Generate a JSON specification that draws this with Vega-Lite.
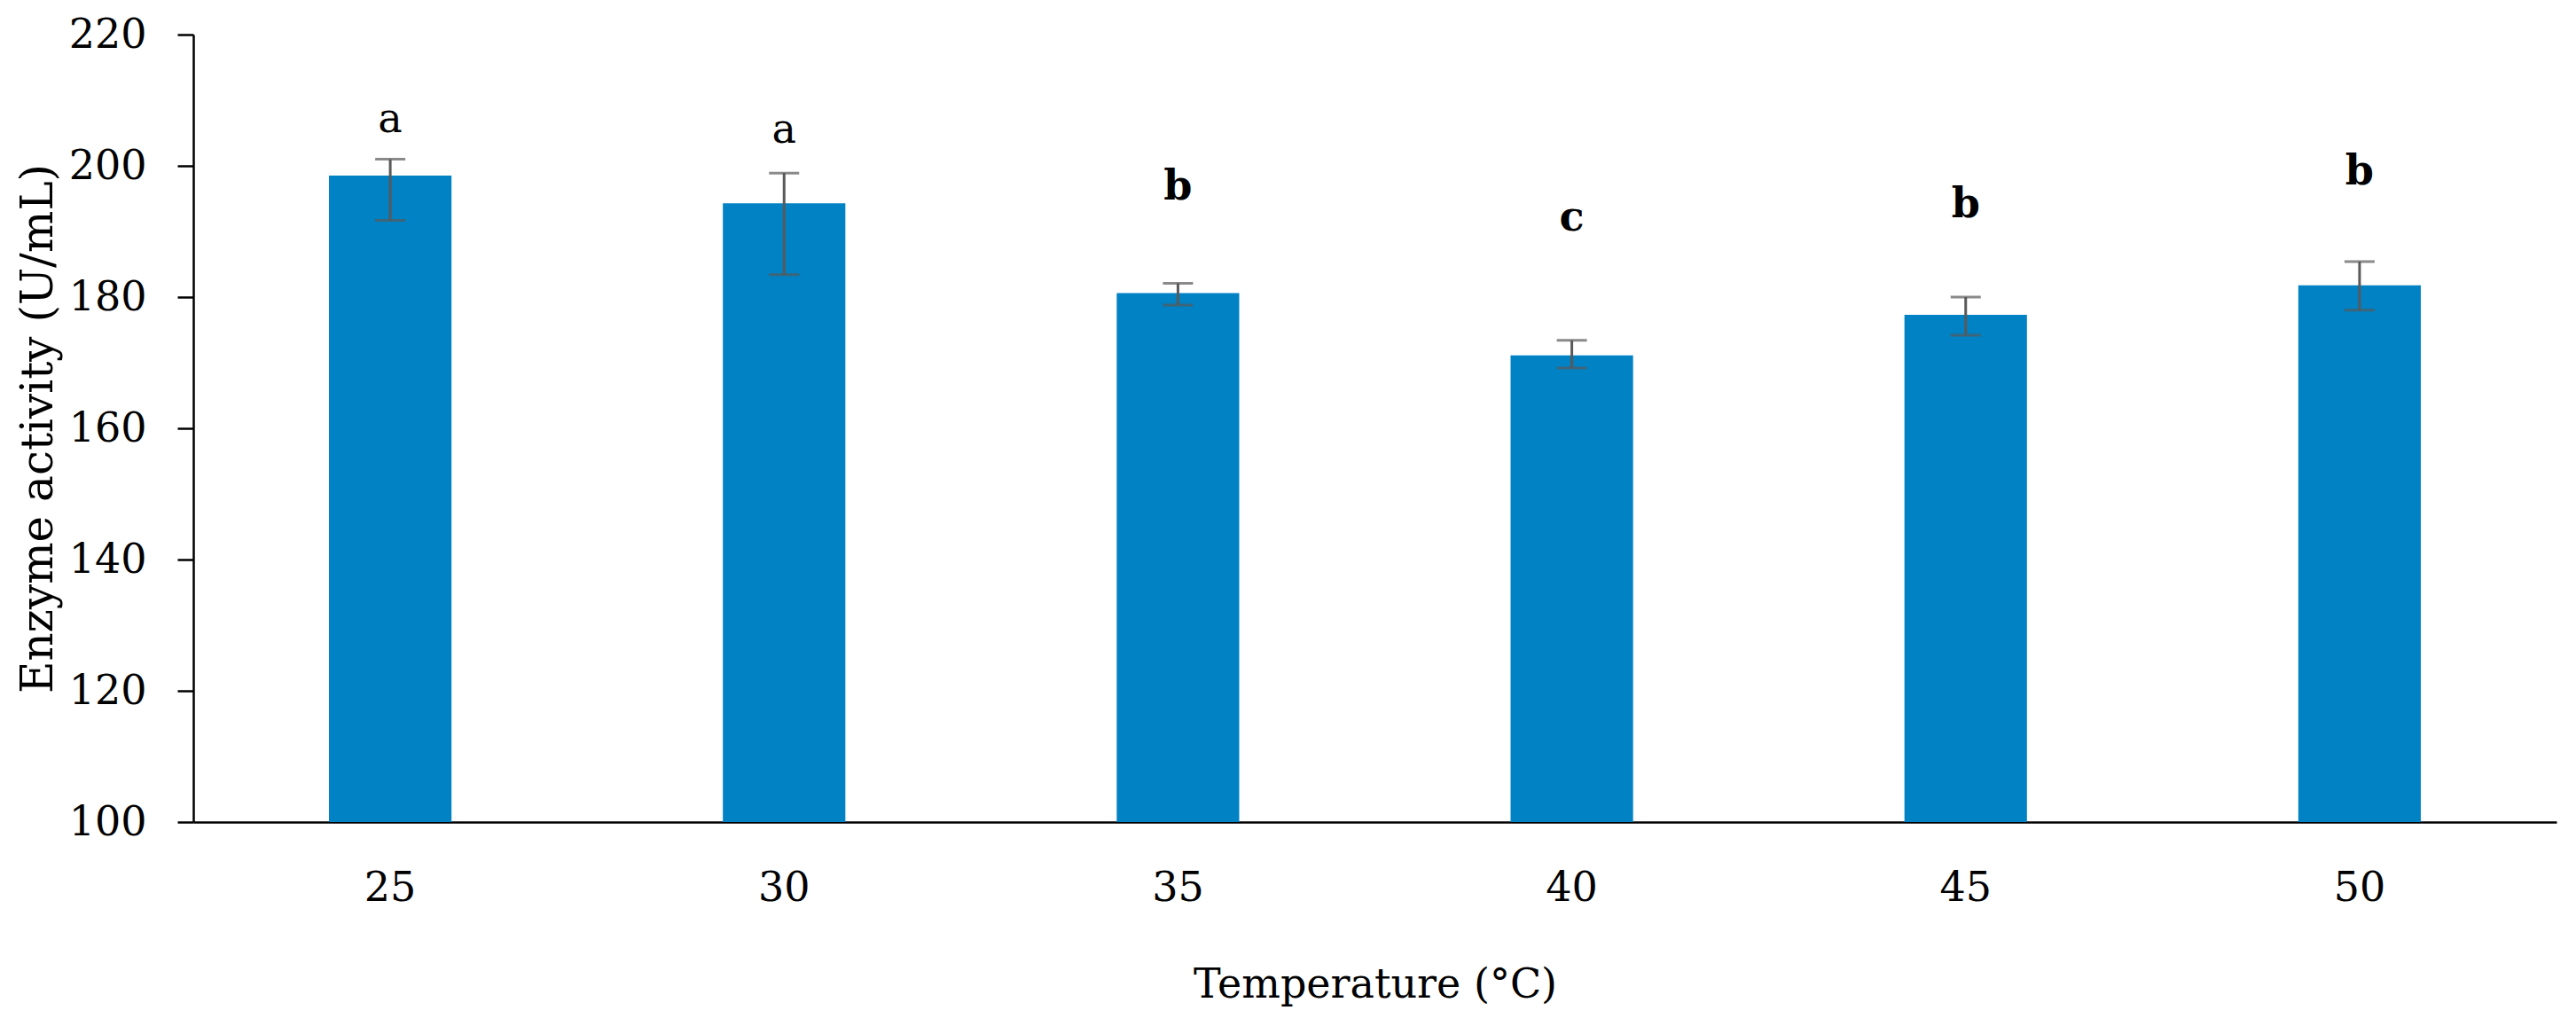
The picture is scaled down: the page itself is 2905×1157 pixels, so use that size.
{
  "$schema": "https://vega.github.io/schema/vega-lite/v6.json",
  "width": 2665,
  "height": 888,
  "autosize": {"type": "none"},
  "padding": {"left": 218, "top": 39, "right": 22, "bottom": 230},
  "background": "white",
  "data": {
    "values": [
      {"Temperature": "25", "Activity": 198.5, "Lower": 191.7, "Upper": 201.0, "Group": "a", "LabelY": 205.2},
      {"Temperature": "30", "Activity": 194.3, "Lower": 183.4, "Upper": 198.9, "Group": "a", "LabelY": 203.5},
      {"Temperature": "35", "Activity": 180.6, "Lower": 178.8, "Upper": 182.1, "Group": "b", "LabelY": 194.8},
      {"Temperature": "40", "Activity": 171.1, "Lower": 169.2, "Upper": 173.4, "Group": "c", "LabelY": 190.2},
      {"Temperature": "45", "Activity": 177.3, "Lower": 174.2, "Upper": 180.0, "Group": "b", "LabelY": 192.2},
      {"Temperature": "50", "Activity": 181.8, "Lower": 178.0, "Upper": 185.4, "Group": "b", "LabelY": 197.2}
    ]
  },
  "encoding": {
    "x": {
      "field": "Temperature",
      "type": "nominal",
      "sort": null,
      "scale": {"paddingInner": 0.689, "paddingOuter": 0.3445},
      "axis": {
        "title": "Temperature (°C)",
        "labelAngle": 0,
        "ticks": false,
        "tickSize": 0,
        "labelPadding": 52,
        "titleBaseline": "alphabetic",
        "titleY": 197,
        "titleFontSize": 46
      }
    }
  },
  "layer": [
    {
      "mark": {"type": "bar", "color": "#0082C4"},
      "encoding": {
        "y": {
          "field": "Activity",
          "type": "quantitative",
          "scale": {"domain": [100, 220], "nice": false, "zero": false},
          "axis": {
            "title": "Enzyme activity (U/mL)",
            "values": [100, 120, 140, 160, 180, 200, 220],
            "grid": false,
            "tickSize": 18,
            "labelPadding": 35,
            "titleX": -160,
            "titleY": 444,
            "titleAngle": -90,
            "titleBaseline": "alphabetic",
            "titleAlign": "center",
            "titleFontSize": 50
          }
        },
        "y2": {"datum": 100}
      }
    },
    {
      "mark": {"type": "rule", "color": "#595959", "strokeWidth": 3},
      "encoding": {
        "y": {"field": "Lower", "type": "quantitative"},
        "y2": {"field": "Upper"}
      }
    },
    {
      "mark": {"type": "tick", "color": "#595959", "thickness": 3, "size": 34},
      "encoding": {
        "y": {"field": "Lower", "type": "quantitative"}
      }
    },
    {
      "mark": {"type": "tick", "color": "#595959", "thickness": 3, "size": 34},
      "encoding": {
        "y": {"field": "Upper", "type": "quantitative"}
      }
    },
    {
      "mark": {
        "type": "text",
        "baseline": "alphabetic",
        "fontSize": 46,
        "color": "black",
        "fontWeight": {"expr": "datum.Group === 'a' ? 'normal' : 'bold'"}
      },
      "encoding": {
        "y": {"field": "LabelY", "type": "quantitative"},
        "text": {"field": "Group"}
      }
    }
  ],
  "config": {
    "view": {"stroke": null},
    "font": "DejaVu Serif",
    "axis": {
      "domainColor": "black",
      "domainWidth": 2.5,
      "tickColor": "black",
      "tickWidth": 2.5,
      "labelColor": "black",
      "labelFont": "DejaVu Serif",
      "labelFontSize": 46,
      "titleColor": "black",
      "titleFont": "DejaVu Serif",
      "titleFontWeight": "normal"
    },
    "text": {"font": "DejaVu Serif"}
  }
}
